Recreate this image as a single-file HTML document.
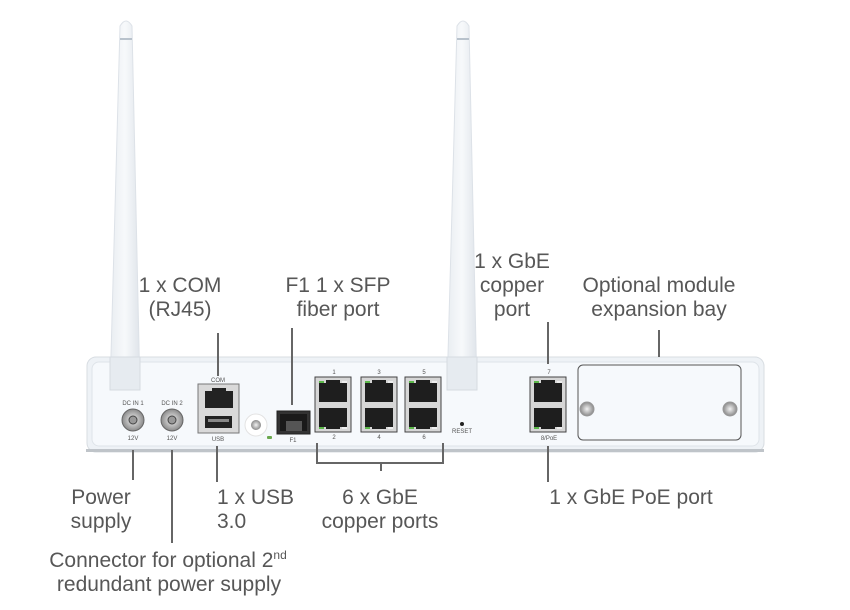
<!DOCTYPE html>
<html><head><meta charset="utf-8"><style>
html,body{margin:0;padding:0;background:#fff;}
svg{display:block;}
.t{font-family:"Liberation Sans",sans-serif;font-size:21px;fill:#575757;}
.s{font-family:"Liberation Sans",sans-serif;font-size:6px;fill:#555;}
</style></head><body>
<svg width="850" height="610" viewBox="0 0 850 610" xmlns="http://www.w3.org/2000/svg">
<defs>
<linearGradient id="ant" x1="0" x2="1">
<stop offset="0" stop-color="#e9edf1"/><stop offset="0.5" stop-color="#f7f9fb"/><stop offset="1" stop-color="#dfe4ea"/>
</linearGradient>
<radialGradient id="scr"><stop offset="0" stop-color="#f2f2f2"/><stop offset="1" stop-color="#8a8a8a"/></radialGradient>
<g id="rj">
<rect x="0" y="0" width="36" height="55" fill="#d6d6d6" stroke="#444" stroke-width="1"/>
<rect x="4" y="6" width="28" height="19" fill="#1e1e1e"/>
<rect x="11" y="3" width="14" height="4" fill="#1e1e1e"/>
<rect x="4" y="31" width="28" height="19" fill="#1e1e1e"/>
<rect x="11" y="48" width="14" height="4" fill="#1e1e1e"/>
<rect x="4" y="4" width="5" height="2" fill="#5cb84a"/>
<rect x="27" y="4" width="5" height="2" fill="#eee"/>
<rect x="4" y="50" width="5" height="2" fill="#5cb84a"/>
<rect x="27" y="50" width="5" height="2" fill="#eee"/>
</g>
</defs>
<path d="M120,26 Q126,16 132,26 L140,392 L110,392 Z" fill="url(#ant)" stroke="#dde2e8" stroke-width="1"/>
<rect x="120" y="38" width="12" height="2" fill="#b8c2cc"/>
<path d="M457,26 Q463,16 469,26 L477,392 L447,392 Z" fill="url(#ant)" stroke="#dde2e8" stroke-width="1"/>
<rect x="457" y="38" width="12" height="2" fill="#b8c2cc"/>
<rect x="87" y="357" width="677" height="95" rx="9" fill="#eef2f6" stroke="#d8dde2"/>
<rect x="86" y="449" width="678" height="3" fill="#bfc4c9"/>
<rect x="92" y="362" width="667" height="84" rx="7" fill="#f6f9fc" stroke="#dfe4e9"/>
<rect x="110" y="357" width="30" height="33" fill="#e6ebf0" stroke="#d5dbe1"/>
<rect x="447" y="357" width="30" height="33" fill="#e6ebf0" stroke="#d5dbe1"/>
<text class="s" x="133" y="405" text-anchor="middle">DC IN 1</text>
<circle cx="133" cy="420" r="11" fill="url(#scr)" stroke="#666"/><circle cx="133" cy="420" r="4" fill="#999" stroke="#444"/>
<text class="s" x="133" y="440" text-anchor="middle">12V</text>
<text class="s" x="172" y="405" text-anchor="middle">DC IN 2</text>
<circle cx="172" cy="420" r="11" fill="url(#scr)" stroke="#666"/><circle cx="172" cy="420" r="4" fill="#999" stroke="#444"/>
<text class="s" x="172" y="440" text-anchor="middle">12V</text>
<text class="s" x="218" y="382" text-anchor="middle">COM</text>
<rect x="198" y="384" width="41" height="49" fill="#d9d9d9" stroke="#777"/>
<rect x="205" y="391" width="28" height="17" fill="#222"/><rect x="212" y="388" width="14" height="4" fill="#222"/>
<rect x="205" y="416" width="27" height="12" fill="#222"/><rect x="208" y="419" width="21" height="3" fill="#888"/>
<text class="s" x="218" y="441" text-anchor="middle">USB</text>
<circle cx="256" cy="425" r="11" fill="#fff" stroke="#e3e3e3"/><circle cx="256" cy="425" r="5" fill="url(#scr)"/>
<rect x="267" y="436" width="5" height="3" rx="1" fill="#6aa84f"/>
<rect x="277" y="411" width="33" height="23" fill="#333" stroke="#222"/>
<rect x="280" y="414" width="27" height="17" fill="#1a1a1a"/>
<rect x="286" y="421" width="16" height="10" fill="#555"/>
<text class="s" x="293" y="442" text-anchor="middle">F1</text>
<use href="#rj" x="315" y="377"/><use href="#rj" x="361" y="377"/><use href="#rj" x="405" y="377"/>
<text class="s" x="334" y="374" text-anchor="middle">1</text><text class="s" x="379" y="374" text-anchor="middle">3</text><text class="s" x="424" y="374" text-anchor="middle">5</text>
<text class="s" x="334" y="439" text-anchor="middle">2</text><text class="s" x="379" y="439" text-anchor="middle">4</text><text class="s" x="424" y="439" text-anchor="middle">6</text>
<circle cx="462" cy="424" r="2" fill="#222"/>
<text class="s" x="462" y="433" text-anchor="middle" font-size="5">RESET</text>
<use href="#rj" x="530" y="377"/>
<text class="s" x="549" y="374" text-anchor="middle">7</text>
<text class="s" x="549" y="440" text-anchor="middle">8/PoE</text>
<rect x="578" y="365" width="163" height="75" rx="5" fill="#f6f9fc" stroke="#555"/>
<circle cx="587" cy="409" r="7" fill="url(#scr)" stroke="#999"/>
<circle cx="730" cy="409" r="7" fill="url(#scr)" stroke="#999"/>
<g stroke="#666" stroke-width="2" fill="none">
<line x1="218" y1="333" x2="218" y2="376"/>
<line x1="292" y1="328" x2="292" y2="405"/>
<line x1="548" y1="322" x2="548" y2="364"/>
<line x1="659" y1="330" x2="659" y2="357"/>
<line x1="133" y1="450" x2="133" y2="480"/>
<line x1="172" y1="450" x2="172" y2="543"/>
<line x1="217" y1="446" x2="217" y2="482"/>
<path d="M317,443 V463 H443 V443"/>
<line x1="381" y1="463" x2="381" y2="471"/>
<line x1="548" y1="446" x2="548" y2="482"/>
</g>
<g class="t" text-anchor="middle">
<text x="180" y="292">1 x COM</text><text x="180" y="316">(RJ45)</text>
<text x="338" y="292">F1 1 x SFP</text><text x="338" y="316">fiber port</text>
<text x="512" y="268">1 x GbE</text><text x="512" y="292">copper</text><text x="512" y="316">port</text>
<text x="659" y="292">Optional module</text><text x="659" y="316">expansion bay</text>
<text x="101" y="504">Power</text><text x="101" y="528">supply</text>
<text x="380" y="504">6 x GbE</text><text x="380" y="528">copper ports</text>
<text x="631" y="504">1 x GbE PoE port</text>
<text x="168" y="567">Connector for optional 2<tspan font-size="12" dy="-8">nd</tspan></text>
<text x="169" y="591">redundant power supply</text>
</g>
<g class="t">
<text x="217" y="504">1 x USB</text><text x="217" y="528">3.0</text>
</g>
</svg>
</body></html>
